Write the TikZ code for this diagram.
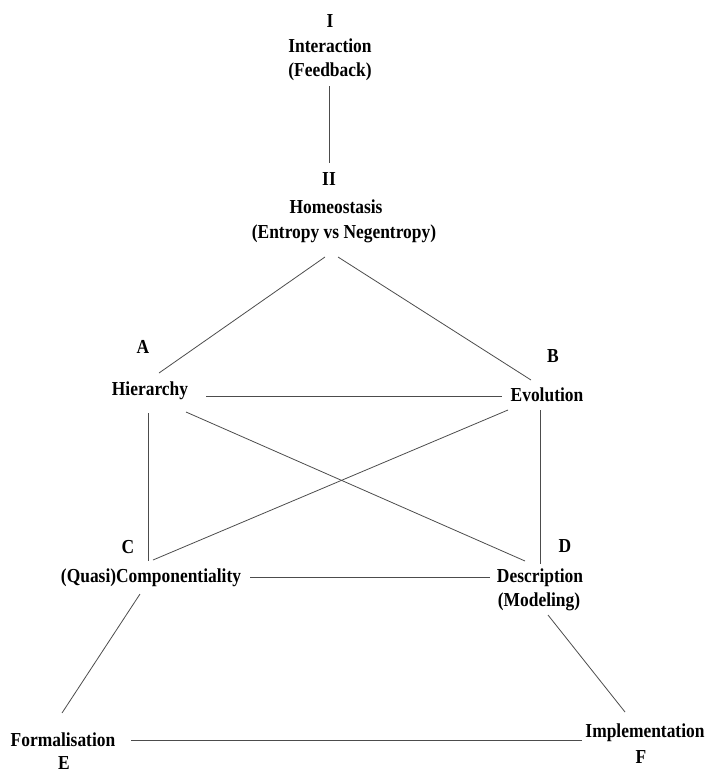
\documentclass[tikz,border=0pt]{standalone}
\usepackage{fontspec}
\setmainfont{Liberation Serif}[FakeStretch=0.88]
\begin{document}
\begin{tikzpicture}[x=1pt,y=-1pt,
  lbl/.style={anchor=base,inner sep=0pt,font=\fontsize{19.8}{24}\selectfont\bfseries},
  conn/.style={draw=black!70,line width=0.8pt}]
\useasboundingbox (0,0) rectangle (706,774);
% top
\node[lbl] (nI)   at (330,27)  {I};
\node[lbl] (inter) at (330,52) {Interaction};
\node[lbl] (feed) at (330,76)  {(Feedback)};
\node[lbl] (nII)  at (329,185) {II};
\node[lbl] (homeo) at (336,213) {Homeostasis};
\node[lbl] (entr) at (344,238) {(Entropy vs Negentropy)};
% A, B
\node[lbl] (la)   at (143,353) {A};
\node[lbl] (hier) at (150,395) {Hierarchy};
\node[lbl] (lb)   at (553,362) {B};
\node[lbl] (evol) at (547,401) {Evolution};
% C, D
\node[lbl] (lc)   at (128,553) {C};
\node[lbl] (comp) at (151,582) {(Quasi)Componentiality};
\node[lbl] (ld)   at (565,552) {D};
\node[lbl] (desc) at (540,582) {Description};
\node[lbl] (model) at (539,606) {(Modeling)};
% E, F
\node[lbl] (form) at (63,746)  {Formalisation};
\node[lbl] (le)   at (64,769)  {E};
\node[lbl] (impl) at (645,737) {Implementation};
\node[lbl] (lf)   at (641,763) {F};
% connector end points
\coordinate (feedS) at (329,86);
\coordinate (IIN)   at (329,163);
\coordinate (entrL) at (325,257);
\coordinate (entrR) at (338,257);
\coordinate (hierN) at (159,373);
\coordinate (evolN) at (531,380);
\coordinate (hierE) at (206,396);
\coordinate (evolW) at (502,396);
\coordinate (hierS) at (148,413);
\coordinate (hierSE) at (186,412);
\coordinate (evolSW) at (508,410);
\coordinate (evolS) at (540,410);
\coordinate (compNV) at (148,561);
\coordinate (compNE) at (153,560);
\coordinate (descNW) at (525,561);
\coordinate (descNV) at (540,564);
\coordinate (compE) at (250,577);
\coordinate (descW) at (490,577);
\coordinate (compS) at (140,594);
\coordinate (formN) at (62,713);
\coordinate (modelS) at (548,615);
\coordinate (implN) at (625,712);
\coordinate (formE) at (131,740);
\coordinate (implW) at (582,740);
% connectors
\draw[conn] (feedS) -- (IIN);
\draw[conn] (entrL) -- (hierN);
\draw[conn] (entrR) -- (evolN);
\draw[conn] (hierE) -- (evolW);
\draw[conn] (hierS) -- (compNV);
\draw[conn] (hierSE) -- (descNW);
\draw[conn] (evolSW) -- (compNE);
\draw[conn] (evolS) -- (descNV);
\draw[conn] (compE) -- (descW);
\draw[conn] (compS) -- (formN);
\draw[conn] (modelS) -- (implN);
\draw[conn] (formE) -- (implW);
\end{tikzpicture}
\end{document}
